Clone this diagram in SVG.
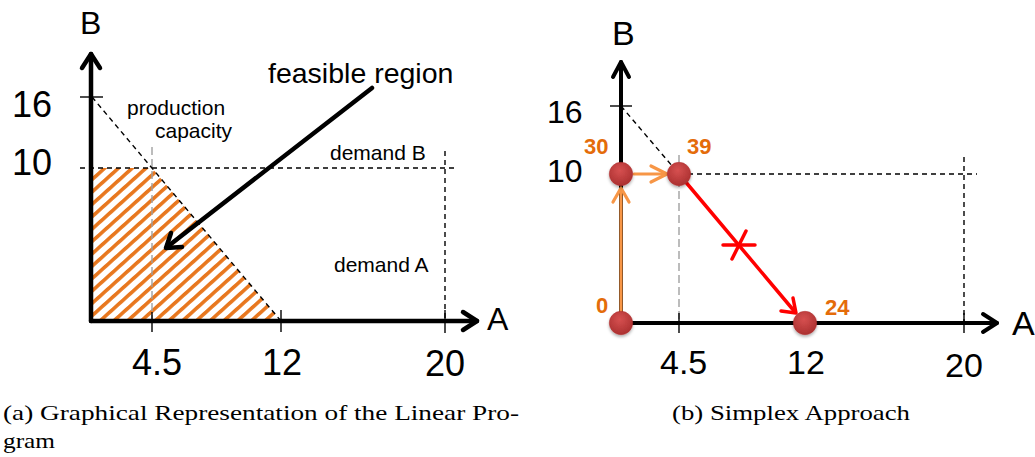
<svg xmlns="http://www.w3.org/2000/svg" width="1035" height="457" viewBox="0 0 1035 457">
<style>
.axis{stroke:#000;stroke-width:4.5;fill:none;stroke-linecap:round;stroke-linejoin:round}
.axis2{stroke:#000;stroke-width:4;fill:none;stroke-linecap:round;stroke-linejoin:round}
.tick{stroke:#000;stroke-width:1.4;fill:none}
.dash{stroke:#000;stroke-width:1.4;fill:none;stroke-dasharray:5 4}
.gdash{stroke:#a0a0a0;stroke-width:1.4;fill:none;stroke-dasharray:8 4}
.lbl{font-family:'Liberation Sans',Arial,sans-serif;fill:#000}
.big{font-size:36px}
.big2{font-size:34px}
.ax{font-size:32px}
.mid{font-size:21px}
.num{font-family:'Liberation Sans',Arial,sans-serif;font-weight:bold;font-size:22px;fill:#E46C0A}
.cap{font-family:'Liberation Serif','Times New Roman',serif;font-size:22px;fill:#000}
.orange{stroke:#F79646;stroke-width:3.2;fill:none;stroke-linecap:round;stroke-linejoin:round}
.red{stroke:#FF0000;stroke-width:3.5;fill:none;stroke-linecap:round;stroke-linejoin:round}
.dot{fill:url(#dotg);stroke:#b03030;stroke-width:0.5;filter:url(#sh)}
</style>
<defs>
<pattern id="hatch" patternUnits="userSpaceOnUse" width="9.2" height="9.2" patternTransform="rotate(48)">
<rect x="0" y="0" width="3.6" height="9.2" fill="#E8771E"/>
</pattern>
<radialGradient id="dotg" cx="0.45" cy="0.35" r="0.7">
<stop offset="0" stop-color="#d65050"/>
<stop offset="1" stop-color="#a82e2e"/>
</radialGradient>
<filter id="sh" x="-50%" y="-50%" width="200%" height="200%">
<feDropShadow dx="0" dy="2" stdDeviation="1.5" flood-color="#000" flood-opacity="0.3"/>
</filter>
</defs>

<g id="panel-a">
<g id="feasible-region">
<polygon points="91,168 152,168 281,321 91,321" fill="url(#hatch)"/>
</g>
<g id="constraints-a">
<line class="gdash" x1="152" y1="147" x2="152" y2="321"/>
<line class="dash" x1="80" y1="168" x2="458" y2="168"/>
<line class="dash" x1="445" y1="151" x2="445" y2="321"/>
<line class="dash" x1="92" y1="97" x2="281" y2="321"/>
</g>
<g id="axes-a">
<line class="axis" x1="91" y1="54" x2="91" y2="321"/>
<line class="axis" x1="91" y1="321" x2="477" y2="321"/>
<polyline class="axis" points="82,68 91,54 100,68"/>
<polyline class="axis" points="463,312 477,321 463,330"/>
<line class="tick" x1="80" y1="97" x2="103" y2="97"/>
<line class="tick" x1="152" y1="312" x2="152" y2="332"/>
<line class="tick" x1="281" y1="310" x2="281" y2="332"/>
<line class="tick" x1="445" y1="310" x2="445" y2="333"/>
</g>
<g id="feasible-arrow">
<line class="axis" x1="372" y1="88" x2="167" y2="247"/>
<polyline class="axis" points="182,247 166,248 171,233"/>
</g>
<g id="labels-a">
<text class="lbl ax" x="80" y="34">B</text>
<text class="lbl ax" x="487" y="330">A</text>
<text class="lbl big" x="12" y="117">16</text>
<text class="lbl big" x="12" y="175">10</text>
<text class="lbl big" x="132" y="375">4.5</text>
<text class="lbl big" x="262" y="375">12</text>
<text class="lbl big" x="425" y="376">20</text>
<text class="lbl" x="268" y="83" font-size="28.5">feasible region</text>
<text class="lbl mid" x="127" y="115">production</text>
<text class="lbl mid" x="155" y="138">capacity</text>
<text class="lbl mid" x="330" y="160">demand B</text>
<text class="lbl mid" x="334" y="272">demand A</text>
</g>
<text class="cap" x="3" y="420" textLength="516" lengthAdjust="spacingAndGlyphs">(a) Graphical Representation of the Linear Pro-</text>
<text class="cap" x="3" y="448" textLength="52" lengthAdjust="spacingAndGlyphs">gram</text>
</g>

<g id="panel-b">
<g id="constraints-b">
<line class="gdash" x1="679" y1="155" x2="679" y2="323"/>
<line class="dash" x1="679" y1="174" x2="977" y2="174"/>
<line class="dash" x1="964" y1="157" x2="964" y2="323"/>
<line class="dash" x1="621" y1="106" x2="679" y2="174"/>
</g>
<g id="axes-b">
<line class="axis2" x1="621" y1="62" x2="621" y2="323"/>
<line class="axis2" x1="621" y1="323" x2="997" y2="323"/>
<polyline class="axis2" points="613,77 621,62 629,77"/>
<polyline class="axis2" points="983,314 997,323 983,332"/>
<line class="tick" x1="610" y1="106" x2="632" y2="106"/>
<line class="tick" x1="679" y1="313" x2="679" y2="333"/>
<line class="tick" x1="964" y1="313" x2="964" y2="333"/>
</g>
<g id="connectors">
<line class="orange" x1="621" y1="311" x2="621" y2="189"/>
<polyline class="orange" points="613,202 621,188 629,202"/>
<line class="orange" x1="634" y1="174" x2="666" y2="174"/>
<polyline class="orange" points="651,166 667,174 651,182"/>
<line class="red" x1="679" y1="174" x2="795" y2="312"/>
<polyline class="red" points="781,311 796,313 793,298"/>
<line class="red" x1="723" y1="245" x2="755" y2="245"/>
<line class="red" x1="746" y1="231" x2="732" y2="259"/>
</g>
<g id="node-0"><circle class="dot" cx="621" cy="323" r="11.7"/><text class="num" x="596" y="313">0</text></g>
<g id="node-30"><circle class="dot" cx="621" cy="174" r="11.7"/><text class="num" x="584" y="154">30</text></g>
<g id="node-39"><circle class="dot" cx="679" cy="174" r="11.7"/><text class="num" x="687" y="154">39</text></g>
<g id="node-24"><circle class="dot" cx="805" cy="323" r="11.7"/><text class="num" x="825" y="315">24</text></g>
<g id="labels-b">
<text class="lbl big2" x="612" y="45">B</text>
<text class="lbl big2" x="1012" y="335">A</text>
<text class="lbl ax" x="547" y="123">16</text>
<text class="lbl ax" x="547" y="182">10</text>
<text class="lbl big2" x="660" y="374">4.5</text>
<text class="lbl big2" x="787" y="374">12</text>
<text class="lbl big2" x="945" y="377">20</text>
</g>
<text class="cap" x="672" y="420" textLength="238" lengthAdjust="spacingAndGlyphs">(b) Simplex Approach</text>
</g>
</svg>
